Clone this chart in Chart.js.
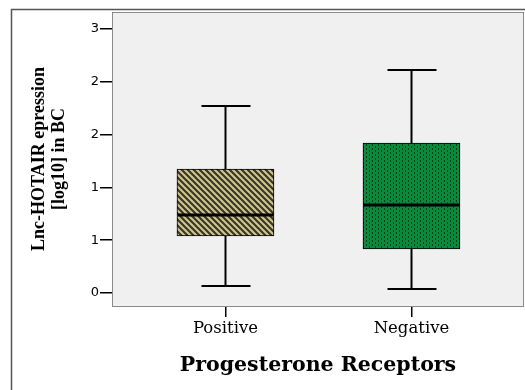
<!DOCTYPE html>
<html>
<head>
<meta charset="utf-8">
<script src="https://cdn.jsdelivr.net/npm/chart.js@4/dist/chart.umd.min.js"></script>
<style>
  body { margin: 0; background: #fff; }
  #wrap { width: 525px; height: 390px; }
</style>
</head>
<body>
<div id="wrap"><canvas id="boxChart"></canvas></div>
<script>
// Дані (log10)
const categories = ['Positive', 'Negative'];
const whiskerLow = [0.066, 0.038];
const q1 = [0.540, 0.417];
const median = [0.739, 0.833];
const q3 = [1.174, 1.420];
const whiskerHigh = [1.771, 2.112];
const yTicks = [0, 0.5, 1, 1.5, 2, 2.5];
const yTickLabels = ['0', '1', '1', '2', '2', '3'];

// Візерунки для заливки ящиків
function hatchPattern() {
  const c = document.createElement('canvas');
  c.width = 6; c.height = 6;
  const g = c.getContext('2d');
  g.fillStyle = '#d0c78e';
  g.fillRect(0, 0, 6, 6);
  g.strokeStyle = '#3a3626';
  g.lineWidth = 2.2;
  g.beginPath();
  g.moveTo(-3, -3); g.lineTo(9, 9);
  g.moveTo(-3, 3); g.lineTo(3, 9);
  g.moveTo(3, -3); g.lineTo(9, 3);
  g.stroke();
  return g.createPattern(c, 'repeat');
}

function dotPattern() {
  const c = document.createElement('canvas');
  c.width = 6; c.height = 4;
  const g = c.getContext('2d');
  g.fillStyle = '#0b8a3e';
  g.fillRect(0, 0, 6, 4);
  g.fillStyle = '#02401a';
  g.fillRect(0, 0, 1, 2);
  g.fillRect(3, 2, 1, 2);
  return g.createPattern(c, 'repeat');
}

// Фон, рамка, вуса та медіани
const boxPlugin = {
  id: 'boxPlugin',
  beforeDraw(chart) {
    const { ctx, chartArea: a } = chart;
    ctx.save();
    ctx.fillStyle = '#fff';
    ctx.fillRect(0, 0, chart.width, chart.height);
    ctx.strokeStyle = '#555';
    ctx.lineWidth = 1.5;
    ctx.beginPath();
    ctx.moveTo(11.5, chart.height);
    ctx.lineTo(11.5, 9.5);
    ctx.lineTo(chart.width, 9.5);
    ctx.stroke();
    ctx.fillStyle = '#f0f0f0';
    ctx.fillRect(a.left, a.top, a.right - a.left, a.bottom - a.top);
    ctx.restore();
  },
  afterDatasetsDraw(chart) {
    const { ctx, chartArea: a } = chart;
    const xs = chart.scales.x, ys = chart.scales.y;
    ctx.save();
    ctx.strokeStyle = '#000';
    categories.forEach((c, i) => {
      const x = Math.round(xs.getPixelForValue(i + 1)) + 0.5;
      const half = 48;
      const yLo = ys.getPixelForValue(whiskerLow[i]);
      const yHi = ys.getPixelForValue(whiskerHigh[i]);
      const yQ1 = ys.getPixelForValue(q1[i]);
      const yQ3 = ys.getPixelForValue(q3[i]);
      const yMed = ys.getPixelForValue(median[i]);
      ctx.lineWidth = 2;
      ctx.beginPath();
      ctx.moveTo(x, yQ3); ctx.lineTo(x, yHi);
      ctx.moveTo(x, yQ1); ctx.lineTo(x, yLo);
      ctx.moveTo(x - 24, yHi); ctx.lineTo(x + 25, yHi);
      ctx.moveTo(x - 24, yLo); ctx.lineTo(x + 25, yLo);
      ctx.stroke();
      ctx.lineWidth = 3;
      ctx.beginPath();
      ctx.moveTo(x - half, yMed); ctx.lineTo(x + half, yMed);
      ctx.stroke();
    });
    // рамка області графіка
    ctx.strokeStyle = '#8a8a8a';
    ctx.lineWidth = 1;
    ctx.strokeRect(a.left + 0.5, a.top + 0.5, a.right - a.left - 1, a.bottom - a.top);
    ctx.restore();
  }
};

const boxData = {
  datasets: [{
    data: categories.map((c, i) => ({ x: i + 1, y: [q1[i], q3[i]] })),
    backgroundColor: [hatchPattern(), dotPattern()],
    borderColor: '#000',
    borderWidth: 1,
    borderSkipped: false,
    barThickness: 97
  }]
};

const boxConfig = {
  type: 'bar',
  data: boxData,
  options: {
    responsive: true,
    maintainAspectRatio: false,
    animation: false,
    layout: { padding: { left: 0, top: 12, right: 1, bottom: 0 } },
    plugins: {
      legend: { display: false },
      tooltip: { enabled: false }
    },
    scales: {
      x: {
        type: 'linear',
        offset: false,
        min: 0.39,
        max: 2.605,
        afterBuildTicks: (s) => { s.ticks = categories.map((c, i) => ({ value: i + 1 })); },
        afterFit: (s) => { s.height = 84; },
        ticks: {
          autoSkip: false,
          maxRotation: 0,
          padding: 2,
          color: '#000',
          font: { family: 'DejaVu Serif', size: 16.5 },
          callback: (v) => categories[v - 1]
        },
        grid: { offset: false, drawOnChartArea: false, tickLength: 11, color: '#000', lineWidth: 1.5 },
        border: { display: false },
        title: {
          display: true,
          text: 'Progesterone Receptors',
          color: '#000',
          font: { family: 'DejaVu Serif', size: 20.5, weight: 'bold' },
          padding: { top: 0, bottom: 12 }
        }
      },
      y: {
        min: -0.123,
        max: 2.66,
        afterBuildTicks: (s) => { s.ticks = yTicks.map(v => ({ value: v })); },
        afterFit: (s) => { s.width = 112; },
        ticks: {
          padding: 1,
          color: '#000',
          font: { family: 'DejaVu Sans', size: 13 },
          callback: (v, i) => yTickLabels[i]
        },
        grid: { drawOnChartArea: false, tickLength: 12, color: '#000', lineWidth: 1.5 },
        border: { display: false },
        title: {
          display: true,
          text: ['Lnc-HOTAIR epression', '[log10] in BC'],
          color: '#000',
          font: { family: 'Liberation Serif', size: 18, weight: 'bold', lineHeight: 1.08 },
          padding: { top: 30, bottom: 0 }
        }
      }
    }
  },
  plugins: [boxPlugin]
};

const boxChart = new Chart(document.getElementById('boxChart'), boxConfig);
</script>
</body>
</html>
